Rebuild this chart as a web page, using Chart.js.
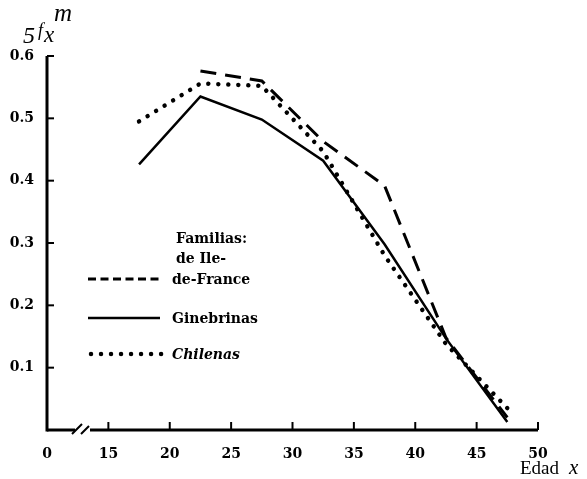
<!DOCTYPE html>
<html>
<head>
<meta charset="utf-8">
<script src="https://cdn.jsdelivr.net/npm/chart.js@4/dist/chart.umd.min.js"></script>
<style>
  body { margin: 0; background: #fff; }
  #wrap { width: 587px; height: 479px; }
</style>
</head>
<body>
<div id="wrap"><canvas id="chart" width="587" height="479"></canvas></div>
<script>
// edades (punto medio de cada grupo quinquenal)
const ages = [17.5, 22.5, 27.5, 32.5, 37.5, 42.5, 47.5];
const ileDeFrance = [null, 0.576, 0.56, 0.463, 0.392, 0.148, 0.02];
const ginebrinas = [0.426, 0.535, 0.498, 0.432, 0.298, 0.147, 0.013];
const chilenas = [0.495, 0.556, 0.552, 0.447, 0.28, 0.138, 0.035];

const xTicks = [10, 15, 20, 25, 30, 35, 40, 45, 50];
const xTickLabels = ["0", "15", "20", "25", "30", "35", "40", "45", "50"];
const yTicks = [0.1, 0.2, 0.3, 0.4, 0.5, 0.6];

const legendLines = ["Familias:", "de Ile-", "de-France"];

const serif = "'DejaVu Serif', 'Liberation Serif', serif";

function toPoints(values) {
  return ages.map((a, i) => ({ x: a, y: values[i] }));
}

// === EJES, RUPTURA, TITULOS Y LEYENDA ===
const paperPlugin = {
  id: "paper",
  afterDraw(chart) {
    const ctx = chart.ctx;
    const xs = chart.scales.x;
    const ys = chart.scales.y;
    const x0 = xs.getPixelForValue(10);
    const y0 = ys.getPixelForValue(0);
    ctx.save();
    ctx.strokeStyle = "#000";
    ctx.fillStyle = "#000";

    // eje y
    ctx.lineWidth = 3;
    ctx.beginPath();
    ctx.moveTo(x0, y0 + 1.5);
    ctx.lineTo(x0, ys.getPixelForValue(0.6));
    ctx.stroke();
    ctx.lineWidth = 2;
    yTicks.forEach(v => {
      const y = ys.getPixelForValue(v);
      ctx.beginPath();
      ctx.moveTo(x0, y);
      ctx.lineTo(x0 + 7, y);
      ctx.stroke();
    });

    // eje x con ruptura
    const xEnd = xs.getPixelForValue(50);
    ctx.lineWidth = 3;
    ctx.beginPath();
    ctx.moveTo(x0, y0);
    ctx.lineTo(x0 + 28, y0);
    ctx.moveTo(x0 + 43, y0);
    ctx.lineTo(xEnd, y0);
    ctx.stroke();
    ctx.lineWidth = 2;
    ctx.beginPath();
    ctx.moveTo(x0 + 25, y0 + 4);
    ctx.lineTo(x0 + 35, y0 - 6);
    ctx.moveTo(x0 + 34, y0 + 4);
    ctx.lineTo(x0 + 42, y0 - 4);
    ctx.stroke();
    xTicks.slice(1).forEach(v => {
      const x = xs.getPixelForValue(v);
      ctx.beginPath();
      ctx.moveTo(x, y0);
      ctx.lineTo(x, y0 - 8);
      ctx.stroke();
    });

    // titulo eje y: 5 f x m
    ctx.textBaseline = "alphabetic";
    ctx.font = "italic 24px 'Liberation Serif', serif";
    ctx.fillText("5", 23, 43);
    ctx.font = "italic 18px 'Liberation Serif', serif";
    ctx.fillText("f", 38, 36);
    ctx.font = "italic 23px 'Liberation Serif', serif";
    ctx.fillText("x", 44, 42);
    ctx.font = "italic 25px 'Liberation Serif', serif";
    ctx.fillText("m", 54, 21);

    // titulo eje x
    ctx.font = "19px 'Liberation Serif', serif";
    ctx.fillText("Edad", 520, 474);
    ctx.font = "italic 21px 'Liberation Serif', serif";
    ctx.fillText("x", 569, 474);

    // leyenda
    ctx.font = "bold 14px " + serif;
    ctx.fillText(legendLines[0], 176, 243);
    ctx.fillText(legendLines[1], 176, 263);
    ctx.fillText(legendLines[2], 172, 284);

    const ds = chart.data.datasets;
    const rows = [
      { y: 279, dash: [8, 4.5], width: 3, cap: "butt", x1: 88, x2: 160 },
      { y: 318, dash: [], width: 2.5, cap: "butt", x1: 88, x2: 160 },
      { y: 354, dash: [0.01, 10], width: 4.5, cap: "round", x1: 91, x2: 163 }
    ];
    rows.forEach((r, i) => {
      ctx.lineWidth = r.width;
      ctx.lineCap = r.cap;
      ctx.setLineDash(r.dash);
      ctx.beginPath();
      ctx.moveTo(r.x1, r.y);
      ctx.lineTo(r.x2, r.y);
      ctx.stroke();
      ctx.setLineDash([]);
      if (i > 0) {
        ctx.font = (i === 2 ? "italic bold 14px " : "bold 14px ") + serif;
        ctx.fillText(ds[i].label, 172, r.y + 5);
      }
    });
    ctx.restore();
  }
};

new Chart(document.getElementById("chart"), {
  type: "line",
  data: {
    datasets: [
      {
        label: "de Ile-de-France",
        data: toPoints(ileDeFrance),
        borderColor: "#000",
        borderWidth: 3,
        borderDash: [16, 9],
        pointRadius: 0,
        tension: 0
      },
      {
        label: "Ginebrinas",
        data: toPoints(ginebrinas),
        borderColor: "#000",
        borderWidth: 2.5,
        pointRadius: 0,
        tension: 0
      },
      {
        label: "Chilenas",
        data: toPoints(chilenas),
        borderColor: "#000",
        borderWidth: 4.5,
        borderDash: [0.01, 10],
        borderCapStyle: "round",
        pointRadius: 0,
        tension: 0
      }
    ]
  },
  options: {
    responsive: false,
    animation: false,
    spanGaps: false,
    layout: { padding: { top: 56, right: 49, left: 0, bottom: 0 } },
    plugins: { legend: { display: false }, tooltip: { enabled: false } },
    scales: {
      x: {
        type: "linear",
        min: 10,
        max: 50,
        afterFit: s => { s.height = 49; },
        afterBuildTicks: s => { s.ticks = xTicks.map(v => ({ value: v })); },
        grid: { display: false },
        border: { display: false },
        ticks: {
          color: "#000",
          padding: 8,
          maxRotation: 0,
          autoSkip: false,
          font: { family: serif, weight: "bold", size: 14 },
          callback: v => xTickLabels[xTicks.indexOf(v)]
        }
      },
      y: {
        min: 0,
        max: 0.6,
        afterFit: s => { s.width = 47; },
        afterBuildTicks: s => { s.ticks = yTicks.map(v => ({ value: v })); },
        grid: { display: false },
        border: { display: false },
        ticks: {
          color: "#000",
          padding: 5,
          font: { family: serif, weight: "bold", size: 14 },
          callback: v => v.toFixed(1)
        }
      }
    }
  },
  plugins: [paperPlugin]
});
</script>
</body>
</html>
